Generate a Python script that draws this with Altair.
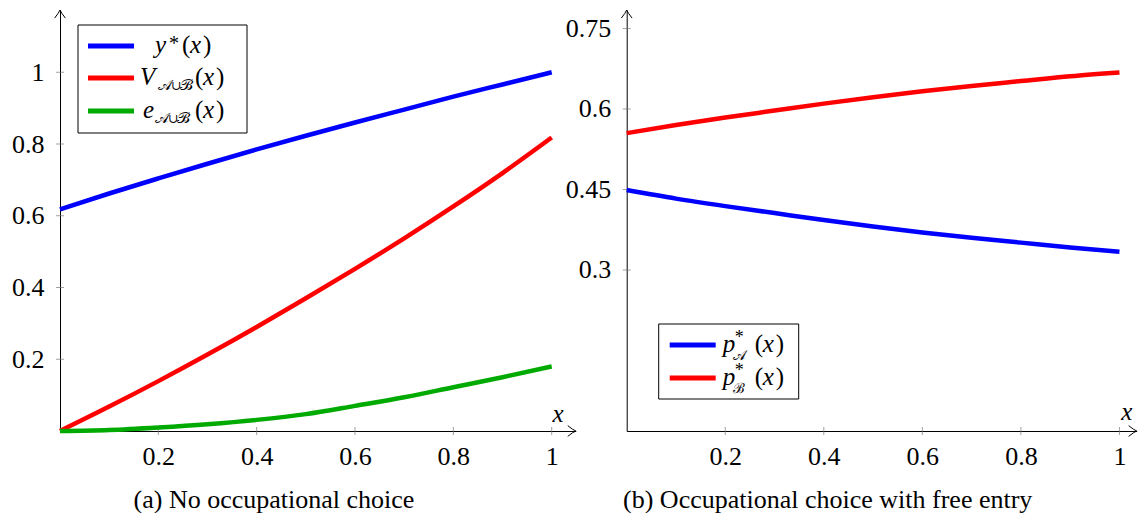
import altair as alt
import pandas as pd

# ---------------- data ----------------
x_vals = [0.0, 0.1, 0.2, 0.3, 0.4, 0.5, 0.6, 0.7, 0.8, 0.9, 1.0]
y_star = [0.618, 0.662, 0.704, 0.745, 0.785, 0.823, 0.860, 0.896, 0.932, 0.966, 1.000]
V_AB = [0.000, 0.068, 0.139, 0.213, 0.290, 0.370, 0.452, 0.537, 0.626, 0.719, 0.818]
e_AB = [0.000, 0.003, 0.010, 0.019, 0.031, 0.047, 0.070, 0.094, 0.122, 0.150, 0.180]
p_A = [0.449, 0.433, 0.419, 0.406, 0.393, 0.381, 0.370, 0.360, 0.351, 0.342, 0.334]
p_B = [0.555, 0.570, 0.584, 0.597, 0.610, 0.622, 0.633, 0.643, 0.652, 0.661, 0.668]

left_series = ["y_star", "V", "e"]
left_colors = ["#0000ff", "#ff0000", "#00aa00"]
right_series = ["pA", "pB"]
right_colors = ["#0000ff", "#ff0000"]

left_x_ticks = [0.2, 0.4, 0.6, 0.8, 1.0]
left_y_ticks = [0.2, 0.4, 0.6, 0.8, 1.0]
right_x_ticks = [0.2, 0.4, 0.6, 0.8, 1.0]
right_y_ticks = [0.3, 0.45, 0.6, 0.75]

caption_a = "(a) No occupational choice"
caption_b = "(b) Occupational choice with free entry"

FONT = "serif"
SCRIPT_A = "\U0001D49C"
SCRIPT_B = "\u212C"

H = 421
LX_MAX, LY_MAX, LW = 1.049, 421 / 358.75, 515.8
RX_MAX, RY_MAX, RW = 1.035, 421 / 536.7, 510.0

one = pd.DataFrame({"k": [0]})

RIGHT_ARROW = "M-1.2,-0.8 Q-0.4,-0.15 0,0 Q-0.4,0.15 -1.2,0.8"
UP_ARROW = "M-0.8,1.2 Q-0.15,0.4 0,0 Q0.15,0.4 0.8,1.2"
LABEL_EXPR = "'' + datum.value"


def txt(s, x, y, size=25, style="italic", align="left", baseline="alphabetic", font=FONT):
    return alt.Chart(one).mark_text(
        text=s, font=font, fontSize=size, fontStyle=style, align=align,
        baseline=baseline, color="black"
    ).encode(x=alt.value(x), y=alt.value(y))


def box(x1, x2, y1, y2):
    return alt.Chart(one).mark_rect(fill="white", stroke="black", strokeWidth=1).encode(
        x=alt.value(x1), x2=alt.value(x2), y=alt.value(y1), y2=alt.value(y2))


def seg(x1, x2, y, color):
    return alt.Chart(one).mark_rule(color=color, strokeWidth=5).encode(
        x=alt.value(x1), x2=alt.value(x2), y=alt.value(y))


def panel(names, series_values, colors, xmax, ymax, xticks, yticks):
    rows = []
    for name, vals in zip(names, series_values):
        for xv, v in zip(x_vals, vals):
            rows.append({"x": xv, "v": v, "s": name})
    df = pd.DataFrame(rows)
    xs = alt.Scale(domain=[0, xmax], nice=False, zero=False)
    ys = alt.Scale(domain=[0, ymax], nice=False, zero=False)
    xaxis = alt.Axis(values=xticks, labelExpr=LABEL_EXPR, ticks=False, tickSize=0, grid=False,
                     domain=True, domainColor="black", domainWidth=1,
                     labelFont=FONT, labelFontSize=26, labelColor="black",
                     labelPadding=12, labelBaseline="top", labelFlush=False, title=None)
    yaxis = alt.Axis(values=yticks, labelExpr=LABEL_EXPR, ticks=False, tickSize=0, grid=False,
                     domain=True, domainColor="black", domainWidth=1,
                     labelFont=FONT, labelFontSize=26, labelColor="black",
                     labelPadding=16, labelFlush=False, title=None)
    lines = alt.Chart(df).mark_line(strokeWidth=4.5, interpolate="monotone").encode(
        x=alt.X("x:Q", scale=xs, axis=xaxis),
        y=alt.Y("v:Q", scale=ys, axis=yaxis),
        color=alt.Color("s:N", scale=alt.Scale(domain=names, range=colors), legend=None),
        order=alt.Order("x:Q"),
    )
    xt = alt.Chart(pd.DataFrame({"x": xticks, "v": [0.0] * len(xticks)})).mark_tick(
        orient="vertical", size=8, thickness=1, color="#777777").encode(
        x=alt.X("x:Q", scale=xs, axis=xaxis), y=alt.Y("v:Q", scale=ys, axis=yaxis))
    yt = alt.Chart(pd.DataFrame({"v": yticks, "x": [0.0] * len(yticks)})).mark_tick(
        orient="horizontal", size=8, thickness=1, color="#777777").encode(
        x=alt.X("x:Q", scale=xs, axis=xaxis), y=alt.Y("v:Q", scale=ys, axis=yaxis))
    arrows = alt.Chart(pd.DataFrame({"x": [xmax, 0.0], "v": [0.0, ymax],
                                     "shape": [RIGHT_ARROW, UP_ARROW]})).mark_point(
        filled=False, stroke="black", strokeWidth=1, size=180, opacity=1).encode(
        x=alt.X("x:Q", scale=xs, axis=xaxis), y=alt.Y("v:Q", scale=ys, axis=yaxis),
        shape=alt.Shape("shape:N", scale=None))
    return [xt, yt, lines, arrows]


left_layers = panel(left_series, [y_star, V_AB, e_AB], left_colors,
                    LX_MAX, LY_MAX, left_x_ticks, left_y_ticks)
SUB = SCRIPT_A + "\u222A" + SCRIPT_B
left_legend = [
    box(18, 187, 15, 123),
    seg(28, 74, 36, left_colors[0]),
    seg(28, 74, 68, left_colors[1]),
    seg(28, 74, 101, left_colors[2]),
    txt("y", 95, 43), txt("*", 109, 40, size=20, style="normal"),
    txt("(", 122, 43, style="normal"), txt("x", 130, 43), txt(")", 143, 43, style="normal"),
    txt("V", 80, 75), txt(SUB, 98, 80, size=15, style="normal"),
    txt("(", 135, 75, style="normal"), txt("x", 143, 75), txt(")", 156, 75, style="normal"),
    txt("e", 83, 108), txt(SUB, 95, 113, size=15, style="normal"),
    txt("(", 135, 108, style="normal"), txt("x", 143, 108), txt(")", 156, 108, style="normal"),
]
left_extra = [
    txt("x", 498, 412, align="center"),
    txt(caption_a, 214, 490, size=26, style="normal", align="center", baseline="middle"),
]
left = alt.layer(*left_layers, *left_legend, *left_extra).properties(width=LW, height=H)

right_layers = panel(right_series, [p_A, p_B], right_colors,
                     RX_MAX, RY_MAX, right_x_ticks, right_y_ticks)
right_legend = [
    box(32, 172, 314, 389),
    seg(43, 89, 335, right_colors[0]),
    seg(43, 89, 368, right_colors[1]),
    txt("p", 96, 342), txt("*", 108, 333, size=18, style="normal"),
    txt(SCRIPT_A, 106, 350, size=14, style="normal"),
    txt("(", 128, 342, style="normal"), txt("x", 136, 342), txt(")", 149, 342, style="normal"),
    txt("p", 96, 375), txt("*", 108, 366, size=18, style="normal"),
    txt(SCRIPT_B, 106, 383, size=14, style="normal"),
    txt("(", 128, 375, style="normal"), txt("x", 136, 375), txt(")", 149, 375, style="normal"),
]
right_extra = [
    txt("x", 500, 410, align="center"),
    txt(caption_b, 201, 490, size=26, style="normal", align="center", baseline="middle"),
]
right = alt.layer(*right_layers, *right_legend, *right_extra).properties(width=RW, height=H)

chart = alt.hconcat(left, right, spacing=50.7, bounds="flush").properties(
    padding={"left": 3, "top": 0, "right": 0, "bottom": 0}
).configure_view(stroke=None)

chart.save("out.html", embed_options={"renderer": "svg", "actions": False})
